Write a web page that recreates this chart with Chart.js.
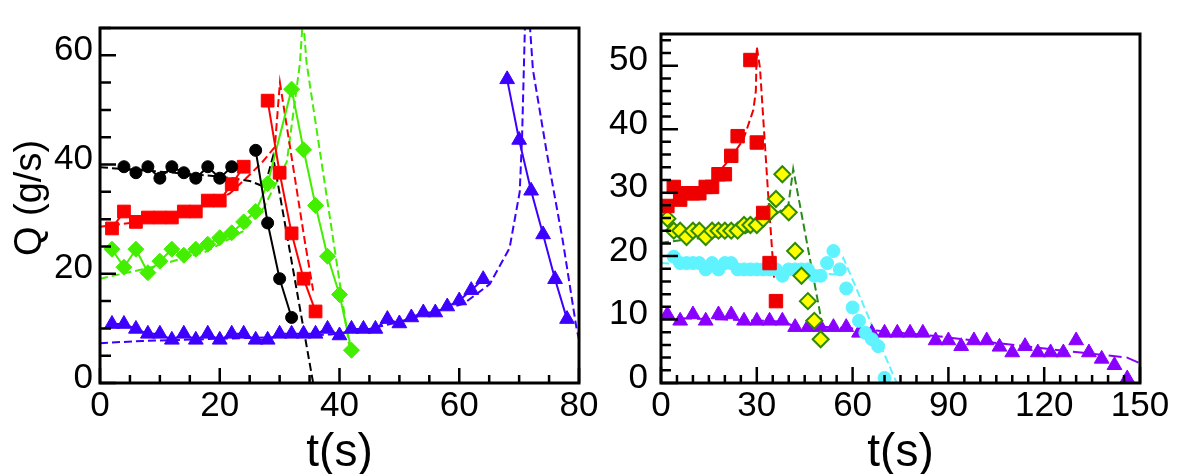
<!DOCTYPE html>
<html>
<head>
<meta charset="utf-8">
<title>Q vs t</title>
<script src="https://cdn.jsdelivr.net/npm/chart.js@4.4.0/dist/chart.umd.min.js"></script>
<style>
  html, body { margin: 0; padding: 0; background: #fff; }
  body { width: 1190px; height: 474px; position: relative; overflow: hidden; }
  canvas { position: absolute; top: 0; }
  #chartLeft { left: 0; }
  #chartRight { left: 600px; }
</style>
</head>
<body>
<canvas id="chartLeft" width="620" height="474"></canvas>
<canvas id="chartRight" width="590" height="474"></canvas>
<script>
"use strict";

/* ---------- Left panel: measured points (gaps = null) ---------- */
const tBlack = [4, 6, 8, 10, 12, 14, 16, 18, 20, 22, 24, 26, 28, 30, 32];
const qBlack = [39.6, 38.5, 39.6, 37.5, 39.6, 38.5, 37.5, 39.6, 37.5, 39.6, null, 42.6, 29.3, 19.1, 12.0];
const tRed = [2, 4, 6, 8, 10, 12, 14, 16, 18, 20, 22, 24, 26, 28, 30, 32, 34, 36];
const qRed = [28.3, 31.4, 29.5, 30.3, 30.3, 30.3, 31.4, 31.4, 33.4, 33.4, 36.4, 39.6, null, 51.7, 38.5, 27.4, 19.1, 13.1];
const tGreen = [2, 4, 6, 8, 10, 12, 14, 16, 18, 20, 22, 24, 26, 28, 32, 34, 36, 38, 40, 42];
const qGreen = [24.5, 21.2, 24.5, 20.2, 22.3, 24.5, 23.4, 24.5, 25.4, 26.6, 27.5, 29.5, 31.4, 36.5, 53.8, 42.7, 32.5, 23.2, 16.2, 6.0];
const tBlue = [2, 4, 6, 8, 10, 12, 14, 16, 18, 20, 22, 24, 26, 28, 30, 32, 34, 36, 38, 40,
  42, 44, 46, 48, 50, 52, 54, 56, 58, 60, 62, 64, 66, 68, 70, 72, 74, 76, 78];
const qBlue = [10.8, 10.8, 9.9, 9.0, 9.0, 7.9, 9.0, 7.9, 9.0, 7.9, 9.0, 9.0, 7.9, 7.9, 9.0, 9.0, 9.0, 9.0, 9.9, 8.7,
  9.9, 9.9, 9.9, 11.7, 10.9, 12.0, 12.9, 12.9, 14.0, 15.1, 17.0, 19.0, null, 55.6, 44.5, 35.2, 27.2, 19.0, 11.7];

/* ---------- Left panel: model curves (dashed) ---------- */
const tFitBlack = [0, 10, 20, 25, 27.5, 28.9, 35.6];
const qFitBlack = [39.5, 38.7, 37.8, 37.0, 35.9, 41.5, 0];
const tFitRed = [0, 9.5, 16.7, 21.7, 24.4, 27, 29.2, 30.05, 34.2, 35.6];
const qFitRed = [28.6, 29.9, 32.0, 34.7, 37.5, 40.3, 43.2, 55, 26, 16.9];
const tFitGreen = [0, 8.3, 17.8, 23.9, 27.3, 31.2, 33.4, 33.9, 34.5, 41.6];
const qFitGreen = [19.1, 21.1, 24.1, 27.8, 32.0, 40.5, 58.6, 67, 58.6, 7.0];
const tFitBlue = [0, 7, 20, 30, 38.6, 45, 50, 55, 60.7, 65.1, 68.4, 70.1, 70.5, 71.2, 72.3, 74.6, 77.3, 79.6, 80];
const qFitBlue = [7.3, 7.7, 8.1, 8.4, 8.9, 9.9, 11.2, 12.8, 14.5, 18.1, 24.7, 35.0, 45.3, 75, 57.4, 42.3, 26.0, 9.9, 8.0];

/* ---------- Right panel: measured points ---------- */
const tRed2 = [2, 4, 6, 8, 10, 12, 14, 16, 18, 20, 22, 24, 28, 30, 32, 34, 36];
const qRed2 = [27.9, 30.9, 28.9, 29.9, 29.9, 29.9, 30.9, 30.9, 32.9, 32.9, 35.8, 38.9, 50.9, 37.9, 26.8, 18.9, 12.9];
const tYellow = [2, 4, 6, 8, 10, 12, 14, 16, 18, 20, 22, 24, 26, 28, 30, 32, 34, 36, 38, 40, 42, 44, 46, 48, 50];
const qYellow = [25.9, 24.0, 24.0, 23.0, 24.0, 24.0, 23.0, 24.0, 24.0, 24.0, 24.0, 24.0, 24.9, 24.9, 24.9, 25.9, 26.9, 29.0, 32.9, 26.9,
  20.8, 16.9, 12.9, 9.8, 6.9];
const tCyan = [4, 6, 8, 10, 12, 14, 16, 18, 20, 22, 24, 26, 28, 30, 32, 34, 36, 38, 40, 42, 44, 46, 48, 50, 52, 54, 56, 58, 60, 62, 64, 66, 68, 70];
const qCyan = [19.9, 18.9, 18.9, 18.9, 18.9, 17.9, 18.9, 17.9, 18.9, 18.9, 17.9, 17.9, 17.9, 17.9, 17.9, 17.9, 17.9, 16.9, 17.9, 17.9,
  17.9, 17.9, 16.9, 16.9, 18.9, 20.8, 17.9, 14.9, 11.9, 9.8, 7.9, 6.9, 5.8, 0.8];
const tPurple = [2, 6, 10, 14, 18, 22, 26, 30, 34, 38, 42, 46, 50, 54, 58, 62, 66, 70, 74, 78, 82, 86, 90, 94, 98, 102,
  106, 110, 114, 118, 122, 126, 130, 134, 138, 142, 146];
const qPurple = [10.8, 9.8, 10.8, 9.8, 10.8, 10.8, 9.8, 9.8, 9.8, 9.8, 8.8, 8.8, 8.8, 8.8, 8.8, 7.9, 7.9, 7.9, 7.9, 7.9, 7.9, 6.7, 6.7, 5.8, 6.7, 6.7,
  5.7, 4.8, 5.8, 4.8, 4.8, 4.8, 6.7, 4.8, 3.8, 2.8, 0.7];

/* ---------- Right panel: model curves (dashed) ---------- */
const tFitRed2 = [0, 5, 10, 15.3, 21.6, 25.8, 28.9, 29.7, 30, 31, 33.6, 35.4];
const qFitRed2 = [28.0, 29.0, 30.2, 31.7, 35.3, 38.4, 43.0, 46, 53, 49.6, 29.4, 16.6];
const tFitYellow = [0, 9.6, 20, 26, 32, 36, 39.9, 41.4, 50.3];
const qFitYellow = [22.1, 22.7, 23.2, 23.5, 25.3, 26.6, 28.1, 33.7, 9.7];
const tFitCyan = [0, 20, 40, 55, 57.1, 73.8];
const qFitCyan = [18.9, 18.3, 17.6, 17.1, 19.7, 0];
const tFitPurple = [0, 20, 38, 41, 60, 86, 126, 146, 150];
const qFitPurple = [10.3, 10.0, 9.7, 9.1, 8.6, 7.4, 5.1, 4.0, 3.1];

/* ---------- Axis ticks ---------- */
const xTicksLeft = [0, 20, 40, 60, 80];
const yTicksLeft = [0, 20, 40, 60];
const xTicksRight = [0, 30, 60, 90, 120, 150];
const yTicksRight = [0, 10, 20, 30, 40, 50];

Chart.defaults.font.family = "'Liberation Sans', Arial, Helvetica, sans-serif";
Chart.defaults.color = "#000";

const pts = (ts, qs) => ts.map((t, i) => ({ x: t, y: qs[i] }));

function markers(ts, qs, color, style, radius, line, extra) {
  return Object.assign({
    data: pts(ts, qs), showLine: line, borderColor: color, borderWidth: 2,
    pointStyle: style, pointRadius: radius, pointBackgroundColor: color,
    pointBorderColor: color, pointBorderWidth: 1, spanGaps: false
  }, extra || {});
}
function fit(ts, qs, color, dash) {
  return { data: pts(ts, qs), showLine: true, borderColor: color, borderWidth: 2,
    borderDash: dash, pointRadius: 0, tension: 0 };
}

/* inward ticks, frame and rotated y title */
const frameTicks = {
  id: "frameTicks",
  afterDatasetsDraw(chart, args, o) {
    const { ctx, chartArea: a, scales: { x, y } } = chart;
    ctx.save();
    ctx.strokeStyle = "#000";
    ctx.lineWidth = 2.5;
    ctx.beginPath();
    for (let v = x.min; v <= x.max; v += o.xMinor) {
      const px = x.getPixelForValue(v);
      const len = v % o.xMajor === 0 ? o.xLen[1] : o.xLen[0];
      ctx.moveTo(px, a.bottom); ctx.lineTo(px, a.bottom - len);
    }
    for (let v = y.min; v <= y.max; v += o.yMinor) {
      const py = y.getPixelForValue(v);
      const len = v % o.yMajor === 0 ? o.yLen[1] : o.yLen[0];
      ctx.moveTo(a.left, py); ctx.lineTo(a.left + len, py);
    }
    ctx.stroke();
    ctx.lineWidth = 3;
    ctx.strokeRect(a.left, a.top, a.right - a.left, a.bottom - a.top);
    if (o.yTitle) {
      ctx.translate(o.yTitleX, o.yTitleY);
      ctx.rotate(-Math.PI / 2);
      ctx.fillStyle = "#000";
      ctx.font = o.yTitleSize + "px " + Chart.defaults.font.family;
      ctx.textAlign = "center";
      ctx.textBaseline = "middle";
      ctx.fillText(o.yTitle, 0, 0);
    }
    ctx.restore();
  }
};

function panelOptions(c) {
  return {
    responsive: false, animation: false, events: [], devicePixelRatio: 1,
    layout: { padding: { left: 0, top: 25, right: c.padRight, bottom: 0 } },
    plugins: { legend: { display: false }, tooltip: { enabled: false }, frameTicks: c.frame },
    scales: {
      x: {
        type: "linear", min: c.xMin, max: c.xMax,
        grid: { display: false, drawTicks: false }, border: { display: false },
        afterBuildTicks: s => { s.ticks = c.xTicks.map(v => ({ value: v })); },
        afterFit: s => { s.height = 91; },
        ticks: { color: "#000", font: { size: 35 }, padding: 2, maxRotation: 0, autoSkip: false },
        title: { display: true, text: "t(s)", color: "#000", font: { size: 46, lineHeight: 1 },
          padding: { top: 0, bottom: -2 } }
      },
      y: {
        type: "linear", min: c.yMin, max: c.yMax,
        grid: { display: false, drawTicks: false }, border: { display: false },
        afterBuildTicks: s => { s.ticks = c.yTicks.map(v => ({ value: v })); },
        afterFit: s => { s.width = c.yWidth; },
        ticks: { color: "#000", font: { size: 35 }, padding: c.yPad, labelOffset: -5, autoSkip: false }
      }
    }
  };
}

/* ---------- Chart 1: left panel ---------- */
new Chart(document.getElementById("chartLeft"), {
  type: "line",
  data: {
    datasets: [
      markers(tBlue, qBlue, "#3d00ff", "triangle", 8.5, true),
      markers(tBlack, qBlack, "#000000", "circle", 6, true),
      markers(tRed, qRed, "#ff0000", "rect", 9, true),
      markers(tGreen, qGreen, "#44ee00", "rectRot", 8, true),
      fit(tFitBlack, qFitBlack, "#000000", [8, 4]),
      fit(tFitRed, qFitRed, "#ff0000", [8, 4]),
      fit(tFitGreen, qFitGreen, "#44ee00", [8, 4]),
      fit(tFitBlue, qFitBlue, "#3d00ff", [8, 4])
    ]
  },
  options: panelOptions({
    xMin: 0, xMax: 80, yMin: 0, yMax: 65, xTicks: xTicksLeft, yTicks: yTicksLeft,
    yWidth: 100, yPad: 7, padRight: 41,
    frame: { xMinor: 5, xMajor: 20, yMinor: 5, yMajor: 20, xLen: [8, 15], yLen: [11, 16],
      yTitle: "Q (g/s)", yTitleSize: 38, yTitleX: 31, yTitleY: 198 }
  }),
  plugins: [frameTicks]
});

/* ---------- Chart 2: right panel ---------- */
new Chart(document.getElementById("chartRight"), {
  type: "line",
  data: {
    datasets: [
      markers(tRed2, qRed2, "#ee0000", "rect", 9.5, false),
      markers(tYellow, qYellow, "#ffff00", "rectRot", 8, false, { pointBorderColor: "#2f8a00", pointBorderWidth: 2 }),
      markers(tCyan, qCyan, "#5ef3ff", "circle", 6.5, false),
      markers(tPurple, qPurple, "#8a00ff", "triangle", 8.5, false),
      fit(tFitRed2, qFitRed2, "#ee0000", [8, 4]),
      fit(tFitYellow, qFitYellow, "#2a8a1a", [8, 4]),
      fit(tFitCyan, qFitCyan, "#5ef3ff", [8, 4]),
      fit(tFitPurple, qFitPurple, "#8a00ff", [13, 5])
    ]
  },
  options: panelOptions({
    xMin: 0, xMax: 150, yMin: 0, yMax: 55, xTicks: xTicksRight, yTicks: yTicksRight,
    yWidth: 61, yPad: 13, padRight: 50,
    frame: { xMinor: 5, xMajor: 30, yMinor: 2, yMajor: 10, xLen: [8, 16], yLen: [10, 17] }
  }),
  plugins: [frameTicks]
});
</script>
</body>
</html>
